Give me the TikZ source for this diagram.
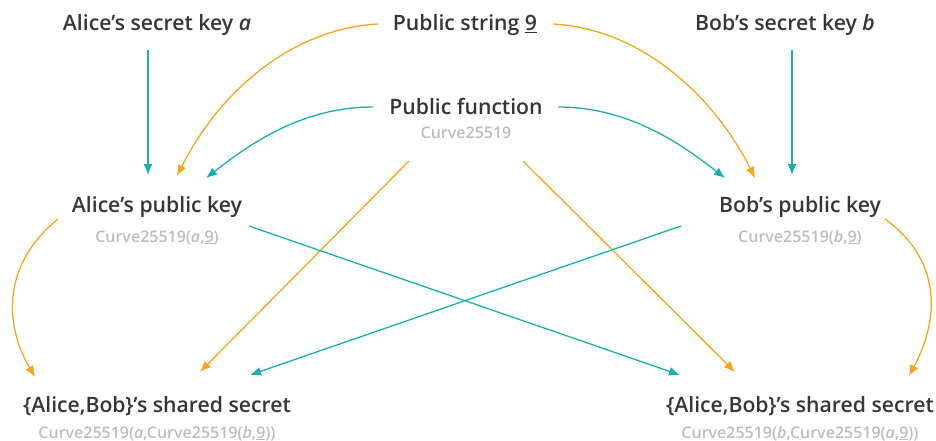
\documentclass[tikz,border=0pt]{standalone}
\usepackage{fontspec}
\IfFontExistsTF{Open Sans SemiBold}{%
	\IfFontExistsTF{Open Sans SemiBold Italic}{%
		\setmainfont{Open Sans}[BoldFont={Open Sans SemiBold}, BoldItalicFont={Open Sans SemiBold Italic}]}{%
		\setmainfont{Open Sans}[BoldFont={Open Sans SemiBold}]}}{%
	\IfFontExistsTF{Open Sans Semibold}{%
		\setmainfont{Open Sans}[BoldFont={Open Sans Semibold}]}{%
		\setmainfont{Open Sans}}}
\usetikzlibrary{arrows.meta}
\definecolor{keyteal}{HTML}{1AAFAF}
\definecolor{keyorange}{HTML}{F5A61C}
\definecolor{labeldark}{HTML}{363636}
\definecolor{labelgrey}{HTML}{BDBDBD}

\begin{document}
\begin{tikzpicture}[
	x=1pt, y=-1pt,
	title/.style={font=\fontsize{21.2}{25}\selectfont\bfseries, text=labeldark, inner sep=0pt, anchor=base},
	formula/.style={font=\fontsize{16}{19}\selectfont\bfseries, text=labelgrey, inner sep=0pt, anchor=base},
	tealarrow/.style={draw=keyteal, line width=1.3pt, -{Latex[length=11pt,width=9pt]}},
	orangearrow/.style={draw=keyorange, line width=1.3pt, -{Latex[length=11pt,width=9pt]}}]
\useasboundingbox (0,0) rectangle (936,441);
% keys and public values
\node[title] (asec) at (157,31) {Alice’s secret key \textit{a}};
\node[title] (pstr) at (465,31) {Public string \underline{9}};
\node[title] (bsec) at (785,31) {Bob’s secret key \textit{b}};
\node[title] (pfun) at (466,114) {Public function};
\node[formula] (pfunsub) at (466,139) {Curve25519};
\node[title] (apub) at (157,212) {Alice’s public key};
\node[formula] (apubsub) at (157,242) {Curve25519(\textit{a},\underline{9})};
\node[title] (bpub) at (800,212) {Bob’s public key};
\node[formula] (bpubsub) at (800,242) {Curve25519(\textit{b},\underline{9})};
\node[title] (ashr) at (157,412) {\{Alice,Bob\}’s shared secret};
\node[formula] (ashrsub) at (157,438) {Curve25519(\textit{a},Curve25519(\textit{b},\underline{9}))};
\node[title] (bshr) at (800,412) {\{Alice,Bob\}’s shared secret};
\node[formula] (bshrsub) at (800,438) {Curve25519(\textit{b},Curve25519(\textit{a},\underline{9}))};

% secret keys
\draw[tealarrow] ([xshift=-9pt,yshift=-19pt]asec.base) -- ([xshift=-9pt,yshift=37pt]apub.base);
\draw[tealarrow] ([xshift=7pt,yshift=-19pt]bsec.base) -- ([xshift=-8pt,yshift=37pt]bpub.base);
% public string
\draw[orangearrow] ([xshift=-87pt,yshift=7pt]pstr.base) .. controls +(-90,5) and +(40,-80) .. ([xshift=20pt,yshift=36pt]apub.base);
\draw[orangearrow] ([xshift=88pt,yshift=7pt]pstr.base) .. controls +(90,5) and +(-40,-80) .. ([xshift=-45pt,yshift=34pt]bpub.base);
% public function
\draw[tealarrow] ([xshift=-93pt,yshift=7pt]pfun.base) .. controls +(-70,0) and +(45,-35) .. ([xshift=49pt,yshift=34pt]apub.base);
\draw[tealarrow] ([xshift=92pt,yshift=7pt]pfun.base) .. controls +(70,0) and +(-45,-35) .. ([xshift=-75pt,yshift=34pt]bpub.base);
\draw[orangearrow] ([xshift=-57pt,yshift=-22pt]pfunsub.base) -- ([xshift=43pt,yshift=40pt]ashr.base);
\draw[orangearrow] ([xshift=57pt,yshift=-22pt]pfunsub.base) -- ([xshift=-65pt,yshift=40pt]bshr.base);
% exchange
\draw[tealarrow] ([xshift=92pt,yshift=16pt]apubsub.base) -- ([xshift=-120pt,yshift=37pt]bshr.base);
\draw[tealarrow] ([xshift=-119pt,yshift=16pt]bpubsub.base) -- ([xshift=93pt,yshift=37pt]ashr.base);
\draw[orangearrow] ([xshift=-99pt,yshift=-7pt]apub.base) .. controls +(-50,40) and +(-35,-60) .. ([xshift=-122pt,yshift=35pt]ashr.base);
\draw[orangearrow] ([xshift=85pt,yshift=-7pt]bpub.base) .. controls +(55,40) and +(32,-60) .. ([xshift=109pt,yshift=36pt]bshr.base);
\end{tikzpicture}
\end{document}
